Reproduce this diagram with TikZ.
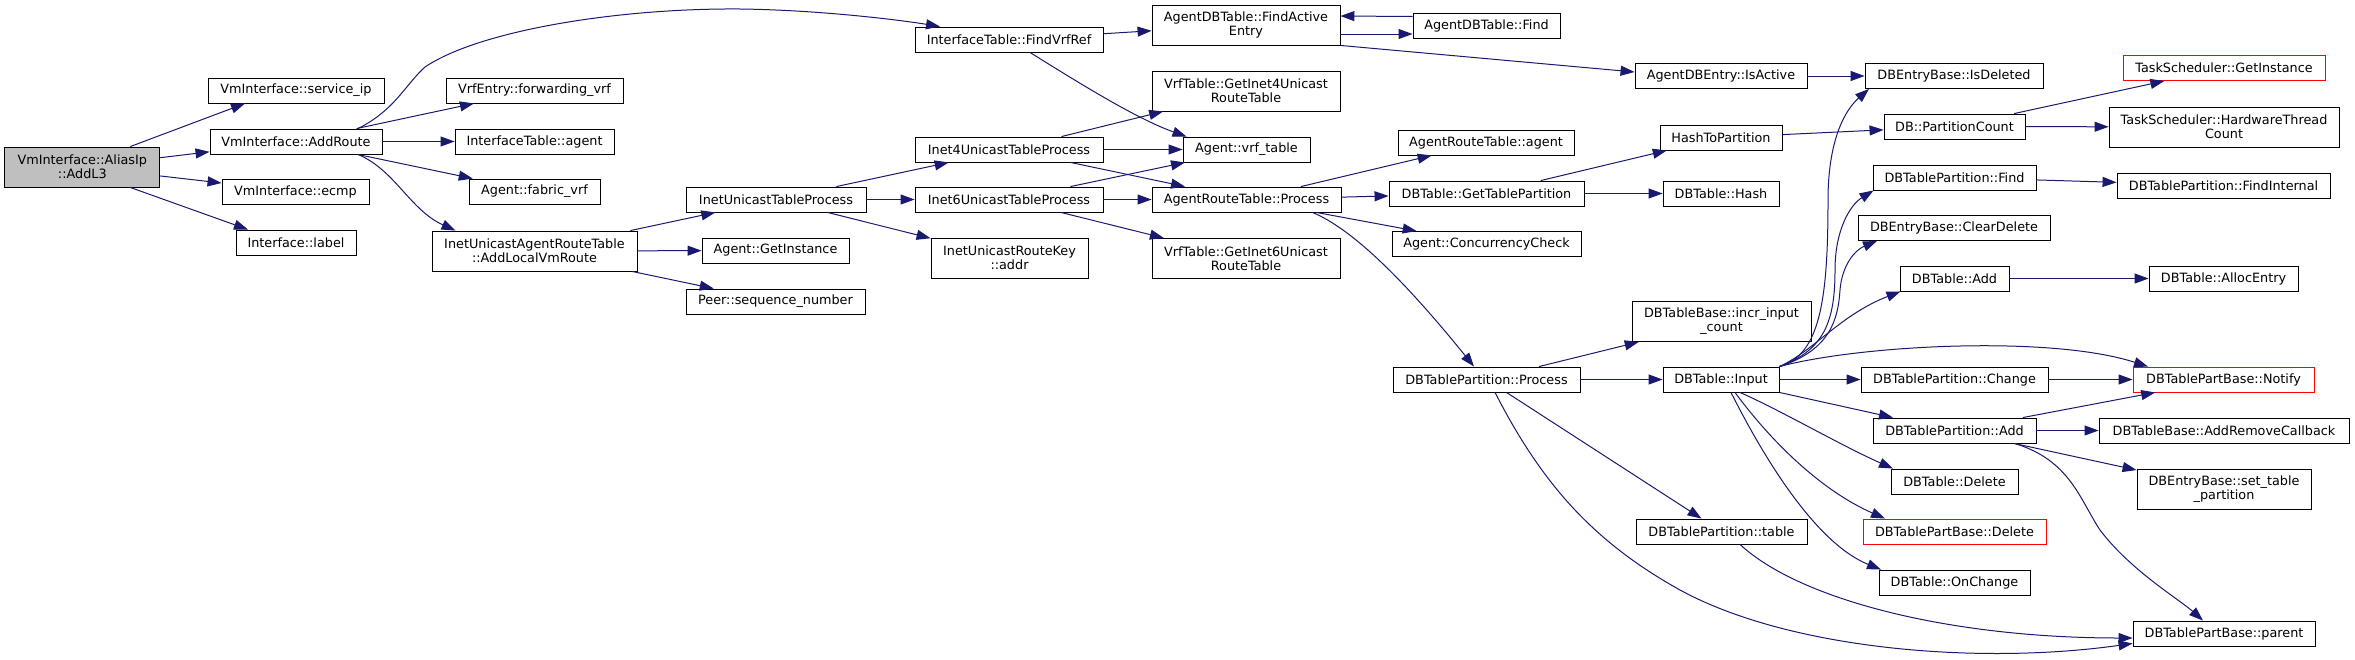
\documentclass[tikz,border=0pt]{standalone}
\usepackage{fontspec}
\setmainfont{DejaVu Sans}
\usetikzlibrary{arrows.meta,positioning}
\definecolor{edgeblue}{HTML}{191970}
\tikzset{
  fn/.style={draw=black, line width=0.9pt, fill=white, minimum height=25pt, inner sep=0pt, align=center, font=\fontsize{12.8}{14}\selectfont},
  fntwo/.style={fn, minimum height=40pt},
  rootfn/.style={fntwo, fill=black!25},
  cut/.style={draw=red},
  call/.style={draw=edgeblue, line width=1pt, -{Triangle[length=14pt,width=10pt]}}
}
\begin{document}
\begin{tikzpicture}[x=1pt,y=-1pt]
  \useasboundingbox (0,0) rectangle (2355,659);
  \node[rootfn, minimum width=155pt] (addl3) at (82.3,167) {VmInterface::AliasIp\\::AddL3};
  \node[fn, minimum width=176pt] (svcip) at (296,90.5) {VmInterface::service\_ip};
  \node[fn, minimum width=172pt] (addroute) at (296,141.5) {VmInterface::AddRoute};
  \node[fn, minimum width=147pt] (ecmp) at (295.5,191.5) {VmInterface::ecmp};
  \node[fn, minimum width=120pt] (label) at (296,242.5) {Interface::label};
  \node[fn, minimum width=177pt] (fwdvrf) at (534.5,90.5) {VrfEntry::forwarding\_vrf};
  \node[fn, minimum width=159pt] (itfagent) at (534.5,141.5) {InterfaceTable::agent};
  \node[fn, minimum width=131pt] (fabvrf) at (534.5,191.5) {Agent::fabric\_vrf};
  \node[fntwo, minimum width=205pt] (addlocal) at (534.5,251) {InetUnicastAgentRouteTable\\::AddLocalVmRoute};
  \node[fn, minimum width=188pt] (findvrf) at (1009,39.5) {InterfaceTable::FindVrfRef};
  \node[fn, minimum width=180pt] (inetproc) at (776,199.5) {InetUnicastTableProcess};
  \node[fn, minimum width=147pt] (getinst) at (775.5,250.5) {Agent::GetInstance};
  \node[fn, minimum width=179pt] (peerseq) at (775.5,301.5) {Peer::sequence\_number};
  \node[fn, minimum width=188pt] (inet4) at (1009,149.5) {Inet4UnicastTableProcess};
  \node[fn, minimum width=188pt] (inet6) at (1009,199.5) {Inet6UnicastTableProcess};
  \node[fntwo, minimum width=157pt] (routekey) at (1009.5,258) {InetUnicastRouteKey\\::addr};
  \node[fntwo, minimum width=188pt] (findactive) at (1246,25) {AgentDBTable::FindActive\\Entry};
  \node[fntwo, minimum width=188pt] (getinet4) at (1246,91) {VrfTable::GetInet4Unicast\\RouteTable};
  \node[fn, minimum width=127pt] (vrftable) at (1246.5,149.5) {Agent::vrf\_table};
  \node[fn, minimum width=189pt] (artproc) at (1246.5,199.5) {AgentRouteTable::Process};
  \node[fntwo, minimum width=188pt] (getinet6) at (1246,258.5) {VrfTable::GetInet6Unicast\\RouteTable};
  \node[fn, minimum width=147pt] (dbfind) at (1486.5,25.5) {AgentDBTable::Find};
  \node[fn, minimum width=172pt] (isactive) at (1721,76) {AgentDBEntry::IsActive};
  \node[fn, minimum width=176pt] (artagent) at (1486,142.5) {AgentRouteTable::agent};
  \node[fn, minimum width=195pt] (gettp) at (1486.5,193.5) {DBTable::GetTablePartition};
  \node[fn, minimum width=189pt] (conc) at (1486.5,244) {Agent::ConcurrencyCheck};
  \node[fn, minimum width=122pt] (hashtop) at (1721,137.5) {HashToPartition};
  \node[fn, minimum width=116pt] (dbhash) at (1721,193.5) {DBTable::Hash};
  \node[fntwo, minimum width=179pt] (incr) at (1721.5,321.5) {DBTableBase::incr\_input\\\_count};
  \node[fn, minimum width=187pt] (dbtpproc) at (1486.5,379.5) {DBTablePartition::Process};
  \node[fn, minimum width=116pt] (input) at (1721,379.5) {DBTable::Input};
  \node[fn, minimum width=171pt] (tptable) at (1721.5,531.5) {DBTablePartition::table};
  \node[fn, minimum width=178pt] (isdel) at (1954,76) {DBEntryBase::IsDeleted};
  \node[fn, cut, minimum width=202pt] (tsinst) at (2224,68) {TaskScheduler::GetInstance};
  \node[fn, minimum width=141pt] (pcount) at (1954.5,126.5) {DB::PartitionCount};
  \node[fntwo, minimum width=230pt] (hwcount) at (2224,127) {TaskScheduler::HardwareThread\\Count};
  \node[fn, minimum width=163pt] (tpfind) at (1954.5,177.5) {DBTablePartition::Find};
  \node[fn, minimum width=213pt] (findint) at (2223.5,185.5) {DBTablePartition::FindInternal};
  \node[fn, minimum width=192pt] (cleardel) at (1954,228) {DBEntryBase::ClearDelete};
  \node[fn, minimum width=109pt] (dbadd) at (1954.5,278.5) {DBTable::Add};
  \node[fn, minimum width=149pt] (alloc) at (2223.5,278.5) {DBTable::AllocEntry};
  \node[fn, minimum width=187pt] (change) at (1954.5,379.5) {DBTablePartition::Change};
  \node[fn, cut, minimum width=181pt] (notify) at (2223.5,379.5) {DBTablePartBase::Notify};
  \node[fn, minimum width=163pt] (tpadd) at (1954.5,430.5) {DBTablePartition::Add};
  \node[fn, minimum width=250pt] (addrm) at (2224,430.5) {DBTableBase::AddRemoveCallback};
  \node[fntwo, minimum width=174pt] (settp) at (2224,489) {DBEntryBase::set\_table\\\_partition};
  \node[fn, minimum width=127pt] (dbdel) at (1954.5,481.5) {DBTable::Delete};
  \node[fn, cut, minimum width=183pt] (pbdel) at (1954.5,531.5) {DBTablePartBase::Delete};
  \node[fn, minimum width=151pt] (onchange) at (1954.5,582.5) {DBTable::OnChange};
  \node[fn, minimum width=182pt] (parent) at (2224,633.5) {DBTablePartBase::parent};
  \foreach \a/\b in {addl3/addroute, addl3/ecmp, addroute/fwdvrf, addroute/itfagent, addroute/fabvrf,
    addlocal/inetproc, addlocal/getinst, addlocal/peerseq, inetproc/inet4, inetproc/inet6, inetproc/routekey,
    findvrf/findactive, inet4/getinet4, inet4/vrftable, inet4/artproc, inet6/vrftable, inet6/artproc, inet6/getinet6,
    isactive/isdel, artproc/artagent, artproc/gettp, artproc/conc, gettp/hashtop, gettp/dbhash, hashtop/pcount,
    pcount/tsinst, pcount/hwcount, dbtpproc/incr, dbtpproc/input, dbtpproc/tptable, input/change, tpfind/findint,
    dbadd/alloc, change/notify, tpadd/notify, tpadd/addrm, tpadd/settp}
    {\draw[call] (\a) -- (\b);}
  \draw[call] ([xshift=48]addl3.north) -- ([xshift=-51]svcip.south);
  \draw[call] ([xshift=48]addl3.south) -- ([xshift=-48]label.north);
  \draw[call] ([xshift=62]addroute.north) .. controls (395,110) and (405,85) .. (425,67)
    .. controls (480,30) and (620,8) .. (740,9) .. controls (820,10) and (900,20) .. ([xshift=-69]findvrf.north);
  \draw[call] ([xshift=62]addroute.south) .. controls (395,170) and (410,210) .. ([xshift=-79]addlocal.north);
  \draw[call] ([xshift=21]findvrf.south) .. controls (1090,90) and (1140,120) .. ([xshift=-60]vrftable.north);
  \draw[call] ([yshift=-9]findactive.east) -- ([yshift=-8.5]dbfind.west);
  \draw[call] ([yshift=9]dbfind.west) -- ([yshift=9]findactive.east);
  \draw[call] (findactive.south east) -- ([yshift=4]isactive.west);
  \draw[call] ([xshift=66]artproc.south) .. controls (1350,228) and (1400,275) .. ([xshift=-12.5]dbtpproc.north);
  \draw[call] (input.north east) .. controls (1820,355) and (1828,300) .. (1828,200)
    .. controls (1828,140) and (1845,110) .. ([xshift=-85]isdel.south);
  \draw[call] (input.north east) .. controls (1825,350) and (1835,320) .. (1835,270)
    .. controls (1835,230) and (1850,205) .. ([xshift=-81]tpfind.south);
  \draw[call] (input.north east) .. controls (1830,350) and (1838,320) .. (1840,290)
    .. controls (1842,265) and (1855,250) .. ([xshift=-77]cleardel.south);
  \draw[call] (input.north east) .. controls (1815,350) and (1840,315) .. ([xshift=-54]dbadd.south);
  \draw[call] (input.north east) .. controls (1860,345) and (2050,335) .. ([xshift=-75.5]notify.north);
  \draw[call] (input.south east) -- ([xshift=-61.5]tpadd.north);
  \draw[call] ([xshift=19]input.south) .. controls (1780,410) and (1840,445) .. ([xshift=-61.5]dbdel.north);
  \draw[call] ([xshift=14]input.south) .. controls (1770,440) and (1820,490) .. ([xshift=-69.5]pbdel.north);
  \draw[call] ([xshift=10]input.south) .. controls (1770,470) and (1820,545) .. ([xshift=-73.5]onchange.north);
  \draw[call] ([xshift=8.5]dbtpproc.south) .. controls (1540,480) and (1590,540) .. (1680,590)
    .. controls (1790,650) and (1980,665) .. ([yshift=3]parent.south west);
  \draw[call] ([xshift=18.5]tptable.south) .. controls (1800,600) and (1950,638) .. ([yshift=-4.5]parent.west);
  \draw[call] ([xshift=60]tpadd.south) .. controls (2070,460) and (2080,500) .. (2100,530)
    .. controls (2130,570) and (2180,600) .. ([xshift=-21]parent.north);
\end{tikzpicture}
\end{document}
